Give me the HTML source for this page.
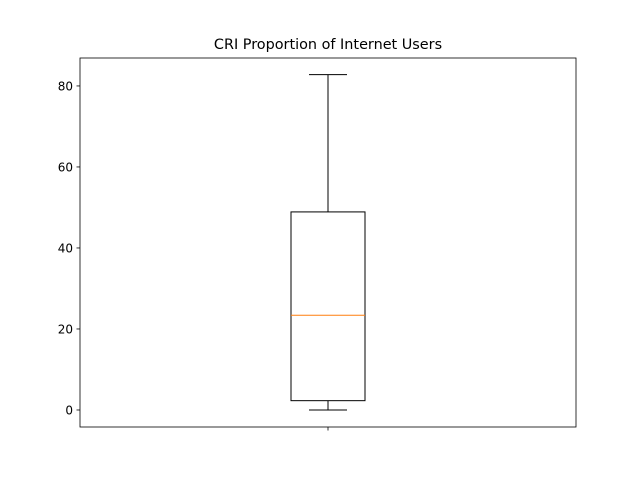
<!DOCTYPE html>
<html><head><meta charset="utf-8"><style>
body{margin:0;background:#fff;}
svg text{font-family:"DejaVu Sans","Liberation Sans",sans-serif;}
</style></head><body>
<svg id="chart" width="640" height="480" xmlns="http://www.w3.org/2000/svg">
<rect width="640" height="480" fill="#fff"/>
<text x="328" y="49" text-anchor="middle" font-size="14.4">CRI Proportion of Internet Users</text>
<g id="plot"></g>
</svg>
<script>
const categories = ["CRI Proportion of Internet Users"];
const whiskerLow = [0];
const q1 = [2.3];
const median = [23.4];
const q3 = [48.9];
const whiskerHigh = [82.8];
const yTicks = [0, 20, 40, 60, 80];

const L=80,R=576,T=58,B=427;
const yMin=-4.2,yMax=86.9;
const y=v=>B-(v-yMin)/(yMax-yMin)*(B-T);
const x=i=>L+(R-L)*(i+0.5)/categories.length;
const g=document.getElementById('plot');
const NS='http://www.w3.org/2000/svg';
function mk(tag,attrs,name){const e=document.createElementNS(NS,tag);for(const k in attrs)e.setAttribute(k,attrs[k]);


g.appendChild(e);return e;}
yTicks.forEach(t=>{
  mk('line',{x1:L-3.5,x2:L,y1:y(t),y2:y(t),stroke:'#000','stroke-width':0.8},'y-tick');
  const tx=mk('text',{x:L-7,y:y(t)+4.5,'text-anchor':'end','font-size':'12'},'y-tick-label');tx.textContent=t;
});
categories.forEach((c,i)=>{
  const cx=x(i),hw=37,cw=19;
  mk('line',{x1:cx,x2:cx,y1:B,y2:B+3.5,stroke:'#000','stroke-width':0.8},'x-tick');
  mk('line',{x1:cx,x2:cx,y1:y(q1[i]),y2:y(whiskerLow[i]),stroke:'#000'},'lower-whisker');
  mk('line',{x1:cx,x2:cx,y1:y(q3[i]),y2:y(whiskerHigh[i]),stroke:'#000'},'upper-whisker');
  mk('line',{x1:cx-cw,x2:cx+cw,y1:y(whiskerLow[i]),y2:y(whiskerLow[i]),stroke:'#000'},'lower-cap');
  mk('line',{x1:cx-cw,x2:cx+cw,y1:y(whiskerHigh[i]),y2:y(whiskerHigh[i]),stroke:'#000'},'upper-cap');
  mk('rect',{x:cx-hw,y:y(q3[i]),width:2*hw,height:y(q1[i])-y(q3[i]),fill:'none',stroke:'#000'},'box');
  mk('line',{x1:cx-hw,x2:cx+hw,y1:y(median[i]),y2:y(median[i]),stroke:'#ff7f0e'},'median-line');
});
mk('rect',{x:L,y:T,width:R-L,height:B-T,fill:'none',stroke:'#000','stroke-width':0.8},'plot-frame');
</script>
</body></html>
